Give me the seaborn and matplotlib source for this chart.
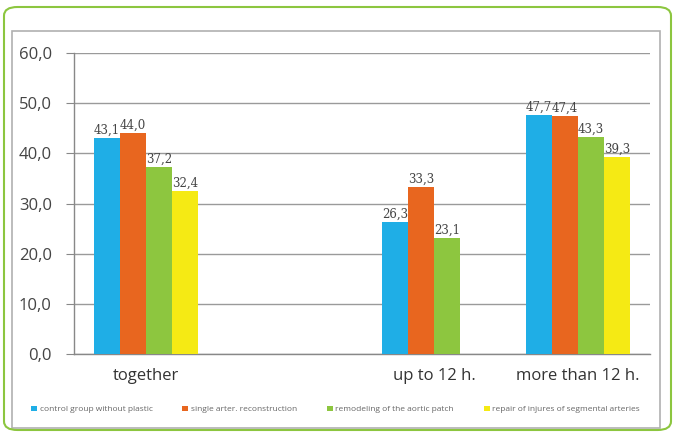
import numpy as np
import pandas as pd
import seaborn as sns
import matplotlib.pyplot as plt
from matplotlib.patches import FancyBboxPatch, Rectangle
from matplotlib.ticker import FixedLocator, FuncFormatter

# categories on the x axis (the second slot is empty in the original)
categories = ['together', ' ', 'up to 12 h.', 'more than 12 h.']
series_names = ['control group without plastic',
                'single arter. reconstruction',
                'remodeling of the aortic patch',
                'repair of injures of segmental arteries']

control = [43.1, None, 26.3, 47.7]
single = [44.0, None, 33.3, 47.4]
remodel = [37.2, None, 23.1, 43.3]
repair = [32.4, None, None, 39.3]

colors = ['#1faee6', '#e8661f', '#8dc63f', '#f5ea14']

records = []
for name, vals in zip(series_names, [control, single, remodel, repair]):
    for cat, v in zip(categories, vals):
        if v is not None:
            records.append({'cat': cat, 'series': name, 'value': v})
df = pd.DataFrame(records)

sns.set_style('white')
plt.rcParams['font.family'] = ['Open Sans', 'DejaVu Sans']

fig = plt.figure(figsize=(6.75, 4.32), dpi=100)
ax = fig.add_axes([74 / 675, 78 / 432, 576 / 675, 301 / 432])

sns.barplot(data=df, x='cat', y='value', hue='series', order=categories,
            hue_order=series_names, palette=colors, width=0.72, gap=0,
            saturation=1, errorbar=None, ax=ax, legend=True, zorder=3,
            linewidth=0)

fmt = lambda v: f'{v:.1f}'.replace('.', ',')
for cont in ax.containers:
    ax.bar_label(cont, fmt=fmt, fontsize=8.5, color='#444444', padding=1,
                 family=['DejaVu Serif'])

ax.set_ylim(0, 60)
ax.set_xlim(-0.5, 3.5)
ax.set_yticks(np.arange(0, 61, 10))
ax.yaxis.set_major_formatter(FuncFormatter(lambda v, p: f'{v:.1f}'.replace('.', ',')))
ax.xaxis.set_minor_locator(FixedLocator(np.arange(-0.5, 3.6, 1.0)))
ax.tick_params(axis='x', which='major', length=0, labelsize=12, colors='#333333', pad=10)
ax.tick_params(axis='x', which='minor', length=5, color='#888888', direction='out')
ax.tick_params(axis='y', length=6, color='#888888', direction='out', labelsize=12,
               labelcolor='#444444', pad=10, left=True)
ax.set_xlabel('')
ax.set_ylabel('')
ax.yaxis.grid(True, color='#9a9a9a', linewidth=1, zorder=0)
ax.set_axisbelow(True)
for s in ['top', 'right']:
    ax.spines[s].set_visible(False)
for s in ['left', 'bottom']:
    ax.spines[s].set_color('#888888')
    ax.spines[s].set_linewidth(1)

handles, labels = ax.get_legend_handles_labels()
ax.get_legend().remove()
fig.legend(handles, labels, loc='center', bbox_to_anchor=(0.497, 0.052), ncol=4,
           frameon=False, fontsize=6, handlelength=0.7, handleheight=0.7,
           handletextpad=0.3, columnspacing=3.6, labelcolor='#666666')

# chart frames
fig.patches.append(Rectangle((12 / 675, 4 / 432), 648 / 675, 397 / 432,
                             transform=fig.transFigure, fill=False,
                             edgecolor='#b0b0b0', linewidth=1.2, zorder=0))
fig.patches.append(FancyBboxPatch((4 / 675, 2 / 432), 667 / 675, 423 / 432,
                                  boxstyle='round,pad=0,rounding_size=0.02',
                                  transform=fig.transFigure, fill=False,
                                  edgecolor='#8cc63f', linewidth=1.5, zorder=0))

fig.savefig('out.png', dpi=100)
